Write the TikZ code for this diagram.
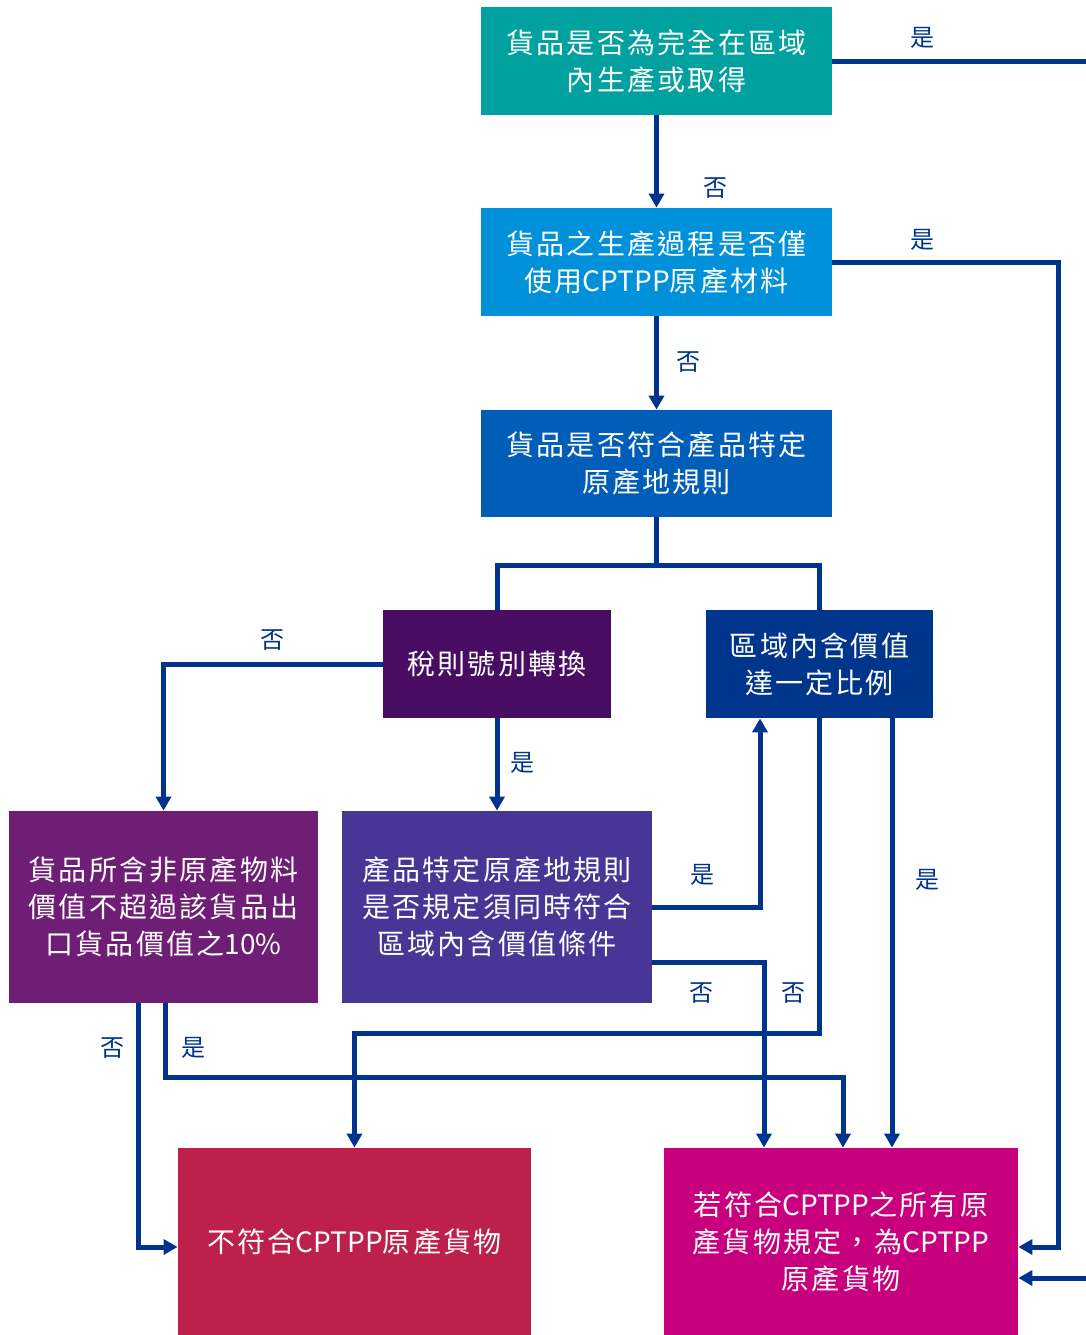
\documentclass[tikz,border=0pt]{standalone}
\usepackage{fontspec}
\usepackage{tikz}
\usetikzlibrary{arrows.meta,calc}

\newfontfamily\cjk[LetterSpace=8]{Noto Sans CJK TC}
\newfontfamily\latinpart{Noto Sans CJK TC}
\newcommand{\cptpp}{{\latinpart CPTPP}}

\definecolor{navyline}{RGB}{0,51,141}
\definecolor{tealbox}{RGB}{0,161,158}
\definecolor{skybox}{RGB}{0,145,218}
\definecolor{bluebox}{RGB}{0,94,184}
\definecolor{plumbox}{RGB}{73,12,99}
\definecolor{navybox}{RGB}{0,53,140}
\definecolor{violetbox}{RGB}{110,30,117}
\definecolor{indigobox}{RGB}{72,54,150}
\definecolor{crimsonbox}{RGB}{188,32,75}
\definecolor{magentabox}{RGB}{200,0,126}

\begin{document}
\begin{tikzpicture}[x=0.5pt, y=-0.5pt,
        box/.style={fill=#1, text=white, inner sep=0pt, align=center,
                    font=\cjk\fontsize{14}{18.5}\selectfont},
        flow/.style={navyline, line width=2.5pt},
        flowarr/.style={flow, -{Triangle[width=7.5pt,length=7pt]}},
        lbl/.style={navyline, font=\cjk\fontsize{12}{14}\selectfont}]

            \useasboundingbox (0,0) rectangle (1086,1335);

            \node[box=tealbox, minimum width=175.5pt, minimum height=54pt] (whole) at (656.5,61)
                {貨品是否為完全在區域\\內生產或取得};
            \node[box=skybox, minimum width=175.5pt, minimum height=54pt] (material) at (656.5,262)
                {貨品之生產過程是否僅\\使用\cptpp 原產材料};
            \node[box=bluebox, minimum width=175.5pt, minimum height=53.5pt] (psr) at (656.5,463.5)
                {貨品是否符合產品特定\\原產地規則};

            \node[box=plumbox, minimum width=114pt, minimum height=54pt] (tariff) at (497,664)
                {稅則號別轉換};
            \node[box=navybox, minimum width=113.5pt, minimum height=54pt] (rvc) at (819.5,664)
                {區域內含價值\\達一定比例};

            \node[box=violetbox, minimum width=154.5pt, minimum height=96pt] (deminimis) at (163.5,907)
                {貨品所含非原產物料\\價值不超過該貨品出\\口貨品價值之{\latinpart 10\%}};
            \node[box=indigobox, minimum width=155pt, minimum height=96pt] (both) at (497,907)
                {產品特定原產地規則\\是否規定須同時符合\\區域內含價值條件};

            \node[box=crimsonbox, minimum width=176.5pt, minimum height=93.5pt] (notorig) at (354.5,1241.5)
                {不符合\cptpp 原產貨物};
            \node[box=magentabox, minimum width=177pt, minimum height=93.5pt] (orig) at (841,1241.5)
                {若符合\cptpp 之所有原\\產貨物規定，為\cptpp\\原產貨物};

            \coordinate (outtop) at (1086,61);
            \coordinate (inbottom) at (1086,1278);

            \draw[flow] (whole.east) -- (outtop);
            \draw[flowarr] (whole) -- (material);
            \draw[flowarr] (material.east) -| ($(orig.east)+(40,5.5)$) -- ($(orig.east)+(0,5.5)$);
            \draw[flowarr] (material) -- (psr);

            \draw[flow] (psr.south) -- ++(0,48) -| (tariff.north);
            \draw[flow] (psr.south) ++(0,48) -| (rvc.north);

            \draw[flowarr] (tariff.west) -| (deminimis.north);
            \draw[flowarr] (tariff) -- (both);

            \draw[flowarr] (both.east) -| ($(rvc.south)+(-59.5,0)$);
            \draw[flowarr] ($(both.east)+(0,55)$) -| ($(orig.north)+(-77,0)$);

            \draw[flowarr] (rvc.south) -- ++(0,315) -| (notorig.north);
            \draw[flowarr] ($(rvc.south)+(72.5,0)$) -- ($(orig.north)+(51,0)$);

            \draw[flowarr] ($(deminimis.south)+(-25.5,0)$) |- ($(notorig.west)+(0,5.5)$);
            \draw[flowarr] ($(deminimis.south)+(1.5,0)$) -- ++(0,74) -| ($(orig.north)+(2,0)$);

            \draw[flowarr] (inbottom) -- ($(orig.east)+(0,36.5)$);

            \node[lbl] (yes1) at (922,38) {是};
            \node[lbl] (no1) at (715,188) {否};
            \node[lbl] (yes2) at (922,240) {是};
            \node[lbl] (no2) at (688,362) {否};
            \node[lbl] (no3) at (272,640) {否};
            \node[lbl] (yes3) at (522,763) {是};
            \node[lbl] (yes4) at (702,875) {是};
            \node[lbl] (no4) at (701,993) {否};
            \node[lbl] (no5) at (793,993) {否};
            \node[lbl] (yes5) at (927,880) {是};
            \node[lbl] (no6) at (112,1048) {否};
            \node[lbl] (yes6) at (193,1048) {是};
        \end{tikzpicture}
\end{document}
